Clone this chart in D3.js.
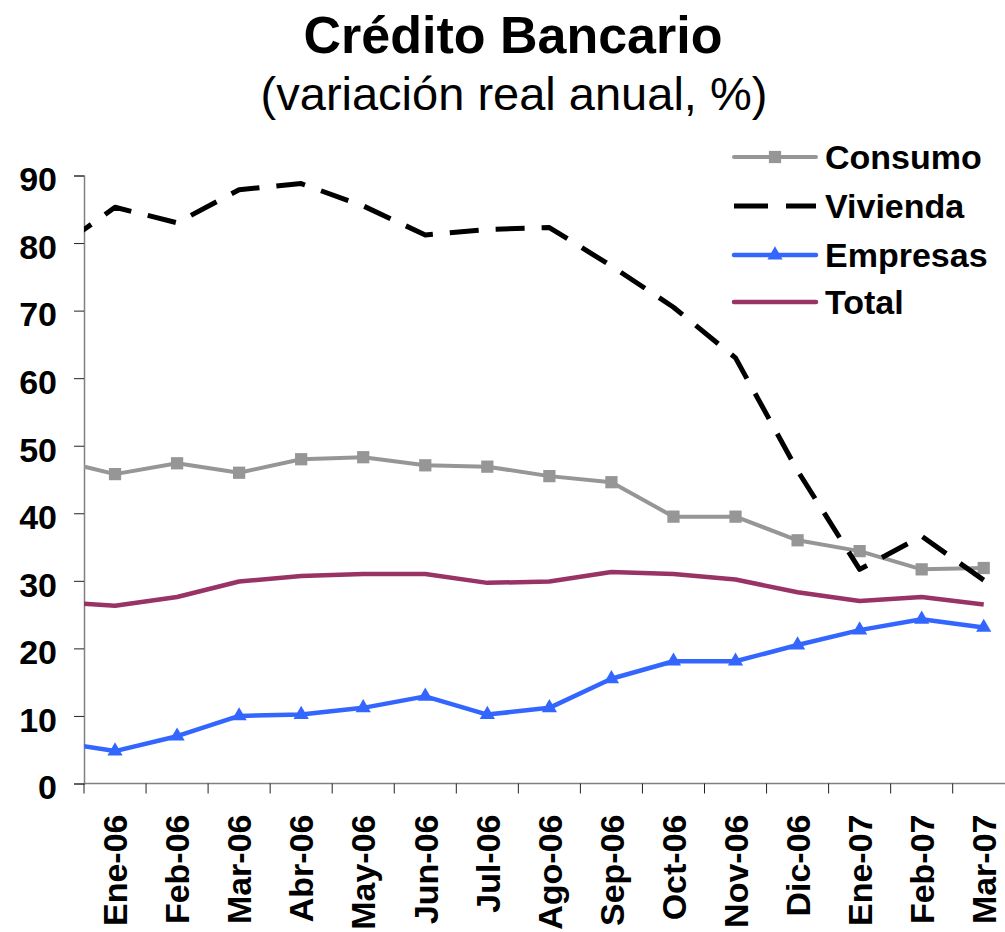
<html>
  <script src="https://cdnjs.cloudflare.com/ajax/libs/d3/7.8.5/d3.min.js"></script>
  <style>
    html, body {
      margin: 0px;
      padding: 0px;
      background: #fff;
    }
    svg text {
      font-family: "Liberation Sans", Arial, sans-serif;
    }
  </style>
  <body>
    <div id="chart"></div>
    <script>
      // months; Dic-05 sits left of the axis and only shows as the clipped start of each line
      var months = ["Dic-05", "Ene-06", "Feb-06", "Mar-06", "Abr-06", "May-06", "Jun-06", "Jul-06",
                    "Ago-06", "Sep-06", "Oct-06", "Nov-06", "Dic-06", "Ene-07", "Feb-07", "Mar-07"];
      var consumo  = [48.0, 45.8, 47.4, 46.0, 48.0, 48.3, 47.1, 46.9, 45.5, 44.6, 39.5, 39.5, 36.0, 34.4, 31.7, 31.9];
      var vivienda = [78.7, 85.3, 83.0, 87.9, 88.8, 85.5, 81.2, 82.0, 82.3, 76.6, 70.5, 63.0, 46.3, 31.7, 36.6, 30.1];
      var empresas = [6.2, 4.8, 7.0, 10.0, 10.2, 11.2, 12.9, 10.2, 11.2, 15.5, 18.1, 18.1, 20.5, 22.7, 24.3, 23.1];
      var total    = [26.9, 26.3, 27.6, 29.9, 30.7, 31.0, 31.0, 29.7, 29.9, 31.3, 31.0, 30.2, 28.3, 27.0, 27.6, 26.5];
      var yTicks = [0, 10, 20, 30, 40, 50, 60, 70, 80, 90];

      var width = 1005, height = 932;
      var plotLeft = 84, step = 62.05, plotBottom = 783.5, plotTop = 175.5;

      var svg = d3.select("#chart").append("svg")
        .attr("width", width).attr("height", height);

      var x = d3.scaleBand()
        .domain(months)
        .range([plotLeft - step, plotLeft + (months.length - 1) * step])
        .padding(0);
      var y = d3.scaleLinear().domain([0, 90]).range([plotBottom, plotTop]);
      var cx = function(m) { return x(m) + x.bandwidth() / 2; };

      svg.append("defs").append("clipPath").attr("id", "plot")
        .append("rect").attr("x", plotLeft).attr("y", 0)
        .attr("width", width - plotLeft).attr("height", plotBottom + 5);

      // titles
      svg.append("text").attr("x", 513).attr("y", 53)
        .attr("text-anchor", "middle").style("font-size", "52px").style("font-weight", "bold")
        .text("Crédito Bancario");
      svg.append("text").attr("x", 514).attr("y", 110)
        .attr("text-anchor", "middle").style("font-size", "47px")
        .text("(variación real anual, %)");

      // y axis
      var yAxis = svg.append("g").attr("transform", "translate(" + plotLeft + ",0)")
        .call(d3.axisLeft(y).tickValues(yTicks).tickSize(10).tickPadding(17));
      yAxis.select(".domain").attr("stroke", "#808080").attr("stroke-width", 1.5);
      yAxis.selectAll(".tick line").attr("stroke", "#222");
      yAxis.selectAll(".tick text")
        .attr("dy", "0.45em")
        .style("font-size", "34px").style("font-weight", "bold").attr("fill", "#000");

      // x axis: ticks at category boundaries, labels at centres
      var shown = months.slice(1);
      var xg = svg.append("g");
      xg.append("line")
        .attr("x1", plotLeft).attr("x2", width)
        .attr("y1", plotBottom).attr("y2", plotBottom)
        .attr("stroke", "#808080").attr("stroke-width", 1.5);
      xg.selectAll(".xt").data(shown).enter().append("line")
        .attr("x1", function(d) { return x(d); }).attr("x2", function(d) { return x(d); })
        .attr("y1", plotBottom).attr("y2", plotBottom + 10)
        .attr("stroke", "#222");
      xg.selectAll(".xl").data(shown).enter().append("text")
        .attr("transform", function(d) { return "translate(" + cx(d) + "," + (plotBottom + 31) + ") rotate(-90)"; })
        .attr("text-anchor", "end").attr("dy", "0.36em")
        .style("font-size", "34px").style("font-weight", "bold")
        .text(function(d) { return d; });

      var series = [
        { name: "Consumo",  values: consumo,  color: "#969696", width: 4,   dash: null,    marker: "square" },
        { name: "Vivienda", values: vivienda, color: "#000000", width: 5,   dash: "29,17", marker: null },
        { name: "Empresas", values: empresas, color: "#3366FF", width: 4.5, dash: null,    marker: "triangle" },
        { name: "Total",    values: total,    color: "#993366", width: 4.5, dash: null,    marker: null }
      ];

      var line = d3.line()
        .x(function(d, i) { return cx(months[i]); })
        .y(function(d) { return y(d); });

      var sq = d3.symbol().type(d3.symbolSquare).size(150);
      var tri = d3.symbol().type(d3.symbolTriangle).size(100);

      var plot = svg.append("g").attr("clip-path", "url(#plot)");
      var order = [series[3], series[0], series[2], series[1]];
      order.forEach(function(s) {
        var p = plot.append("path")
          .attr("d", line(s.values))
          .attr("fill", "none")
          .attr("stroke", s.color)
          .attr("stroke-width", s.width)
          .attr("stroke-linejoin", "round")
          .attr("stroke-dasharray", s.dash);
        if (s.dash) {
          // make the pattern finish on a dash at the last point
          var len = p.node().getTotalLength();
          p.attr("stroke-dashoffset", 29 - (len % 46));
        }
        if (s.marker) {
          plot.selectAll(null).data(s.values.slice(1)).enter().append("path")
            .attr("d", s.marker == "square" ? sq : tri)
            .attr("transform", function(d, i) { return "translate(" + cx(shown[i]) + "," + y(d) + ")"; })
            .attr("fill", s.color);
        }
      });

      // legend
      var legend = svg.append("g");
      var rows = [157, 206, 255, 302];
      series.forEach(function(s, i) {
        var g = legend.append("g").attr("transform", "translate(734," + rows[i] + ")");
        g.append("line").attr("x1", 0).attr("x2", 82)
          .attr("stroke", s.color).attr("stroke-width", s.width)
          .attr("stroke-linecap", s.dash ? "butt" : "round")
          .attr("stroke-dasharray", s.dash ? "34,18" : null);
        if (s.marker) {
          g.append("path").attr("d", s.marker == "square" ? sq : tri)
            .attr("transform", "translate(41,0)").attr("fill", s.color);
        }
        g.append("text").attr("x", 91).attr("dy", "0.36em")
          .style("font-size", "34px").style("font-weight", "bold")
          .text(s.name);
      });
    </script>
  </body>
</html>
